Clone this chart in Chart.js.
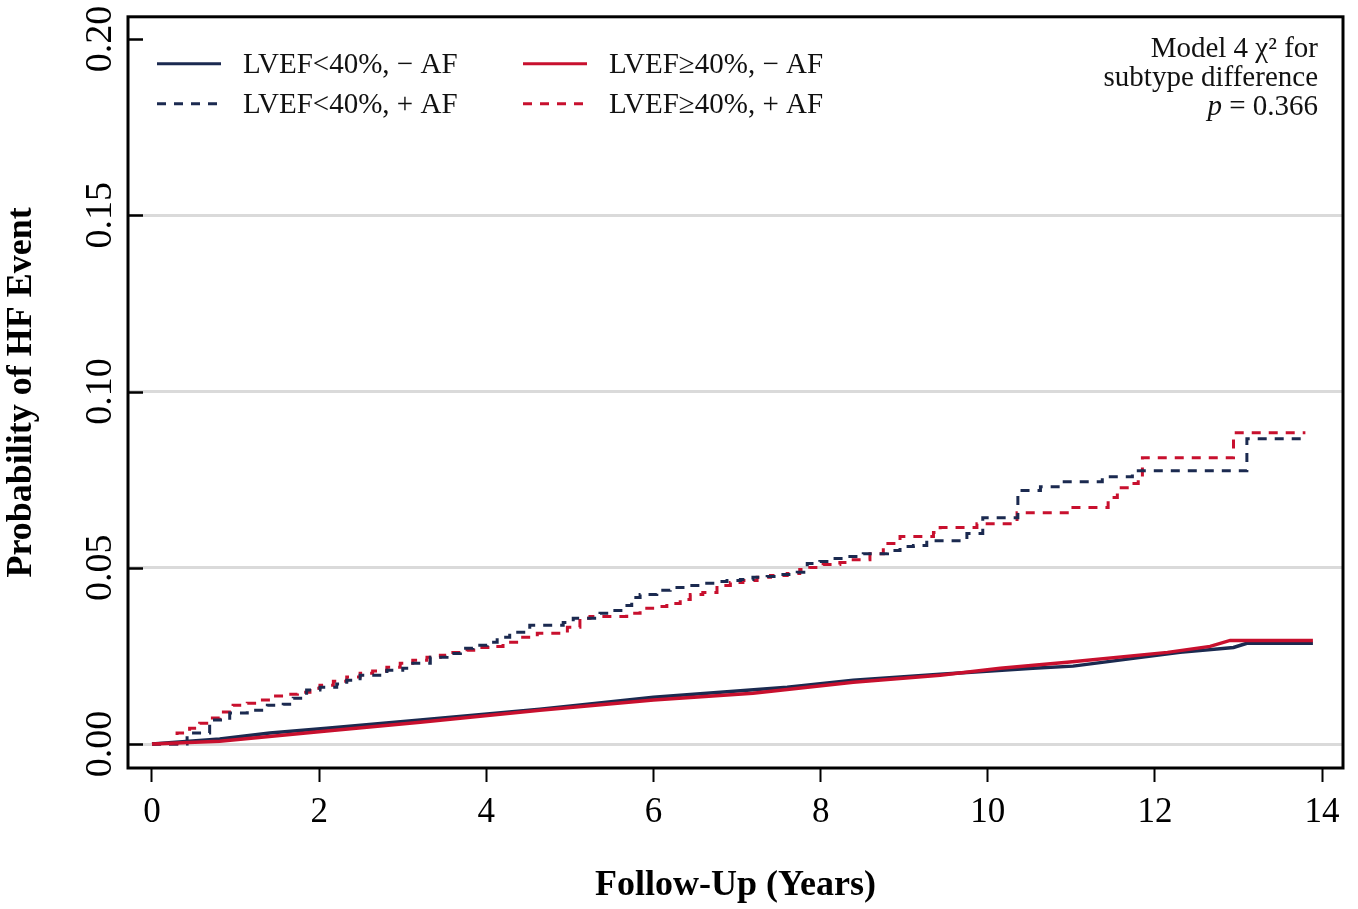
<!DOCTYPE html>
<html><head><meta charset="utf-8">
<script src="https://cdn.jsdelivr.net/npm/chart.js@4.4.1/dist/chart.umd.min.js"></script>
<style>html,body{margin:0;padding:0;background:#fff;}#wrap{width:1358px;height:909px;}</style>
</head><body><div id="wrap"><canvas id="c" width="1358" height="909"></canvas></div>
<script>
// ---- data ----
const xTicks = [0, 2, 4, 6, 8, 10, 12, 14];
const yTicks = [0, 0.05, 0.10, 0.15, 0.20];
const yTickLabels = ['0.00', '0.05', '0.10', '0.15', '0.20'];
const seriesNames = ['LVEF<40%, \u2212 AF', 'LVEF<40%, + AF', 'LVEF\u226540%, \u2212 AF', 'LVEF\u226540%, + AF'];

// LVEF<40%, - AF (solid navy)
const lowNoAF_t = [0, 0.81, 1.41, 2.09, 3.21, 4.01, 4.64, 5.21, 6.0, 6.80, 7.60, 8.39, 9.43, 10.54, 11.02, 11.74, 12.30, 12.94, 13.10, 13.89];
const lowNoAF_p = [0, 0.0014, 0.0031, 0.0045, 0.0068, 0.0085, 0.0099, 0.0113, 0.0133, 0.0147, 0.0161, 0.0181, 0.0198, 0.0215, 0.0221, 0.0243, 0.0260, 0.0274, 0.0286, 0.0286];

// LVEF<40%, + AF (dashed navy)
const lowAF_t = [0, 0.42, 0.69, 0.93, 1.14, 1.38, 1.57, 1.69, 1.85, 2.01, 2.21, 2.33, 2.49, 2.81, 3.0, 3.12, 3.33, 3.53, 3.69, 3.84, 4.01, 4.13, 4.28, 4.52, 4.92, 5.04, 5.36, 5.48, 5.64, 5.74, 5.84, 6.04, 6.20, 6.40, 6.56, 6.71, 6.88, 7.04, 7.19, 7.36, 7.51, 7.72, 7.84, 7.99, 8.15, 8.35, 8.51, 8.80, 8.95, 9.11, 9.27, 9.75, 9.94, 10.36, 10.63, 10.87, 11.37, 11.73, 13.10, 13.82];
const lowAF_p = [0, 0.0031, 0.0068, 0.0088, 0.0096, 0.0110, 0.0113, 0.0130, 0.0153, 0.0161, 0.0170, 0.0181, 0.0195, 0.0209, 0.0215, 0.0229, 0.0246, 0.0257, 0.0272, 0.0280, 0.0289, 0.0303, 0.0317, 0.0337, 0.0345, 0.0357, 0.0371, 0.0379, 0.0393, 0.0416, 0.0424, 0.0436, 0.0444, 0.0450, 0.0456, 0.0461, 0.0464, 0.0467, 0.0473, 0.0475, 0.0481, 0.0487, 0.0512, 0.0518, 0.0526, 0.0532, 0.0540, 0.0549, 0.0560, 0.0563, 0.0577, 0.0597, 0.0642, 0.0719, 0.0730, 0.0744, 0.0758, 0.0775, 0.0866, 0.0866];

// LVEF>=40%, - AF (solid red)
const highNoAF_t = [0, 0.81, 2.09, 3.21, 4.64, 6.0, 7.19, 8.39, 9.43, 10.15, 10.95, 12.15, 12.66, 12.90, 13.89];
const highNoAF_p = [0, 0.0008, 0.0037, 0.0062, 0.0096, 0.0125, 0.0144, 0.0175, 0.0195, 0.0215, 0.0232, 0.0260, 0.0277, 0.0294, 0.0294];

// LVEF>=40%, + AF (dashed red)
const highAF_t = [0, 0.30, 0.45, 0.57, 0.69, 0.81, 0.97, 1.14, 1.29, 1.45, 1.62, 1.74, 1.89, 2.01, 2.17, 2.33, 2.49, 2.64, 2.81, 2.97, 3.12, 3.29, 3.45, 3.60, 3.77, 3.92, 4.08, 4.20, 4.40, 4.61, 4.97, 5.12, 5.24, 5.68, 5.84, 5.99, 6.16, 6.32, 6.44, 6.59, 6.76, 6.92, 7.07, 7.24, 7.40, 7.60, 7.75, 7.87, 8.03, 8.23, 8.39, 8.59, 8.75, 8.95, 9.35, 9.43, 9.87, 10.35, 10.98, 11.44, 11.55, 11.70, 11.80, 11.85, 12.94, 13.80];
const highAF_p = [0, 0.0031, 0.0045, 0.0059, 0.0074, 0.0091, 0.0110, 0.0116, 0.0125, 0.0136, 0.0141, 0.0147, 0.0158, 0.0167, 0.0178, 0.0190, 0.0201, 0.0207, 0.0218, 0.0229, 0.0238, 0.0246, 0.0252, 0.0260, 0.0266, 0.0274, 0.0277, 0.0289, 0.0303, 0.0314, 0.0331, 0.0357, 0.0362, 0.0371, 0.0385, 0.0390, 0.0399, 0.0410, 0.0424, 0.0430, 0.0450, 0.0458, 0.0464, 0.0473, 0.0478, 0.0484, 0.0495, 0.0501, 0.0509, 0.0515, 0.0523, 0.0540, 0.0569, 0.0589, 0.0600, 0.0614, 0.0625, 0.0656, 0.0671, 0.0699, 0.0727, 0.0739, 0.0756, 0.0812, 0.0883, 0.0883];

const annotationLines = ['Model 4 \u03c7\u00b2 for', 'subtype difference'];
const pLabel = 'p';
const pValueText = ' = 0.366';

// ---- styling ----
const NAVY = '#1b2a50';
const RED = '#c8102e';
const SERIF = '"Liberation Serif", "Times New Roman", serif';
const toPts = (t, p) => t.map((x, i) => ({ x: x, y: p[i] }));

const framePlugin = {
  id: 'frame',
  afterDraw(chart) {
    const ctx = chart.ctx;
    const a = chart.chartArea;
    const ys = chart.scales.y;
    ctx.save();
    // inward y ticks
    ctx.strokeStyle = '#000';
    ctx.lineWidth = 2.5;
    yTicks.forEach(v => {
      const py = Math.round(ys.getPixelForValue(v)) + 0.5;
      ctx.beginPath(); ctx.moveTo(a.left, py); ctx.lineTo(a.left + 15, py); ctx.stroke();
    });
    // box
    ctx.lineWidth = 3;
    ctx.strokeRect(a.left, a.top, a.right - a.left, a.bottom - a.top);
    // legend
    const ds = chart.data.datasets;
    const cols = [a.left + 29, a.left + 395];
    const rows = [a.top + 47, a.top + 87];
    const order = [[0, 0], [1, 0], [0, 1], [1, 1]];
    ctx.font = '29px ' + SERIF;
    ctx.textBaseline = 'middle';
    ctx.textAlign = 'left';
    ds.forEach((d, i) => {
      const [r, c] = order[i];
      const x0 = cols[c], y0 = rows[r];
      ctx.strokeStyle = d.borderColor;
      ctx.lineWidth = 3;
      ctx.setLineDash(d.borderDash || []);
      ctx.beginPath(); ctx.moveTo(x0, y0); ctx.lineTo(x0 + 64, y0); ctx.stroke();
      ctx.setLineDash([]);
      ctx.fillStyle = '#111';
      ctx.fillText(d.label, x0 + 86, y0 + 2);
    });
    // annotation
    const rx = a.right - 25;
    ctx.textAlign = 'right';
    ctx.fillText(annotationLines[0], rx, a.top + 33);
    ctx.fillText(annotationLines[1], rx, a.top + 62);
    const w = ctx.measureText(pValueText).width;
    ctx.fillText(pValueText, rx, a.top + 91);
    ctx.font = 'italic 29px ' + SERIF;
    ctx.fillText(pLabel, rx - w, a.top + 91);
    ctx.restore();
  }
};

new Chart(document.getElementById('c'), {
  type: 'line',
  data: {
    datasets: [
      { label: seriesNames[0], data: toPts(lowNoAF_t, lowNoAF_p), borderColor: NAVY, borderWidth: 3.5, pointRadius: 0, tension: 0, order: 2 },
      { label: seriesNames[1], data: toPts(lowAF_t, lowAF_p), borderColor: NAVY, borderWidth: 3, borderDash: [9, 8], pointRadius: 0, stepped: 'before', order: 3 },
      { label: seriesNames[2], data: toPts(highNoAF_t, highNoAF_p), borderColor: RED, borderWidth: 3.5, pointRadius: 0, tension: 0, order: 1 },
      { label: seriesNames[3], data: toPts(highAF_t, highAF_p), borderColor: RED, borderWidth: 3, borderDash: [9, 8], pointRadius: 0, stepped: 'before', order: 4 }
    ]
  },
  options: {
    responsive: false,
    animation: false,
    events: [],
    layout: { padding: { top: 15, right: 15, left: 0, bottom: 0 } },
    plugins: { legend: { display: false }, tooltip: { enabled: false } },
    scales: {
      x: {
        type: 'linear', min: -0.287, max: 14.25,
        afterBuildTicks: s => { s.ticks = xTicks.map(v => ({ value: v })); },
        afterFit: s => { s.height = 141; },
        grid: { drawOnChartArea: false, drawTicks: true, tickLength: 14, tickColor: '#000', tickWidth: 2 },
        border: { display: false },
        ticks: { font: { family: SERIF, size: 35 }, color: '#000', padding: 10, maxRotation: 0, autoSkip: false, callback: v => String(v) },
        title: { display: true, text: 'Follow-Up (Years)', font: { family: SERIF, size: 36, weight: 'bold' }, color: '#000', padding: { top: 0, bottom: 2 } }
      },
      y: {
        type: 'linear', min: -0.0068, max: 0.2063,
        afterBuildTicks: s => { s.ticks = yTicks.map(v => ({ value: v })); },
        afterFit: s => { s.width = 128; },
        grid: { color: c => (c.tick && c.tick.value > 0.19) ? 'rgba(0,0,0,0)' : '#dadada', lineWidth: 3, drawTicks: false },
        border: { display: false },
        ticks: { font: { family: SERIF, size: 38 }, color: '#000', padding: -6, minRotation: 90, maxRotation: 90, crossAlign: 'center', autoSkip: false, callback: (v, i) => yTickLabels[i] },
        title: { display: true, text: 'Probability of HF Event', font: { family: SERIF, size: 36, weight: 'bold' }, color: '#000', padding: { top: 0, bottom: 0 } }
      }
    }
  },
  plugins: [framePlugin]
});
</script>
</body></html>
